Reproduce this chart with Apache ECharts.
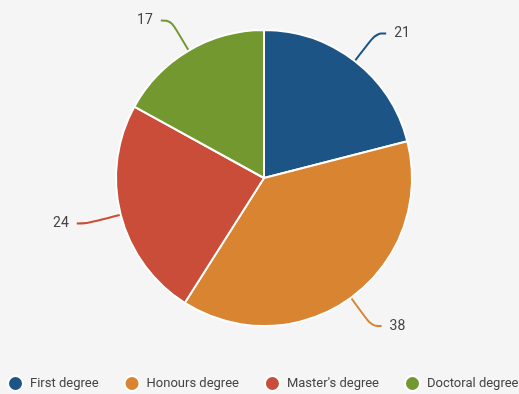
<!DOCTYPE html>
<html>
<head>
<meta charset="utf-8">
<script src="https://cdn.jsdelivr.net/npm/echarts@6/dist/echarts.min.js"></script>
<style>
  html, body { margin: 0; padding: 0; background: #f5f5f5; }
  #chart { width: 519px; height: 394px; }
</style>
</head>
<body>
<div id="chart"></div>
<script>
// Degree categories and their shares
const categories = ['First degree', 'Honours degree', "Master's degree", 'Doctoral degree'];
const values = [21, 38, 24, 17];
const colors = ['#1c5585', '#d98431', '#c94d38', '#73982f'];

const chart = echarts.init(document.getElementById('chart'));
chart.setOption({
  backgroundColor: '#f5f5f5',
  color: colors,
  textStyle: { fontFamily: 'Roboto' },
  legend: {
    top: 375,
    left: 7,
    width: 700,
    padding: 0,
    icon: 'circle',
    itemWidth: 15,
    itemHeight: 15,
    itemGap: 25,
    textStyle: { fontSize: 13, color: '#444', fontFamily: 'Roboto', padding: [0, 0, 0, 2] },
    data: categories
  },
  series: [{
    type: 'pie',
    center: [264, 178],
    radius: [0, 148],
    startAngle: 90,
    clockwise: true,
    itemStyle: { borderColor: '#ffffff', borderWidth: 2 },
    label: {
      show: true,
      formatter: '{c}',
      fontSize: 14,
      color: '#444',
      fontFamily: 'Roboto',
      distanceToLabelLine: 8
    },
    labelLine: {
      show: true,
      smooth: 0.4,
      length: 35,
      length2: 10,
      lineStyle: { width: 2 }
    },
    emphasis: { disabled: true },
    data: categories.map((name, i) => ({ name, value: values[i] }))
  }]
});
</script>
</body>
</html>
